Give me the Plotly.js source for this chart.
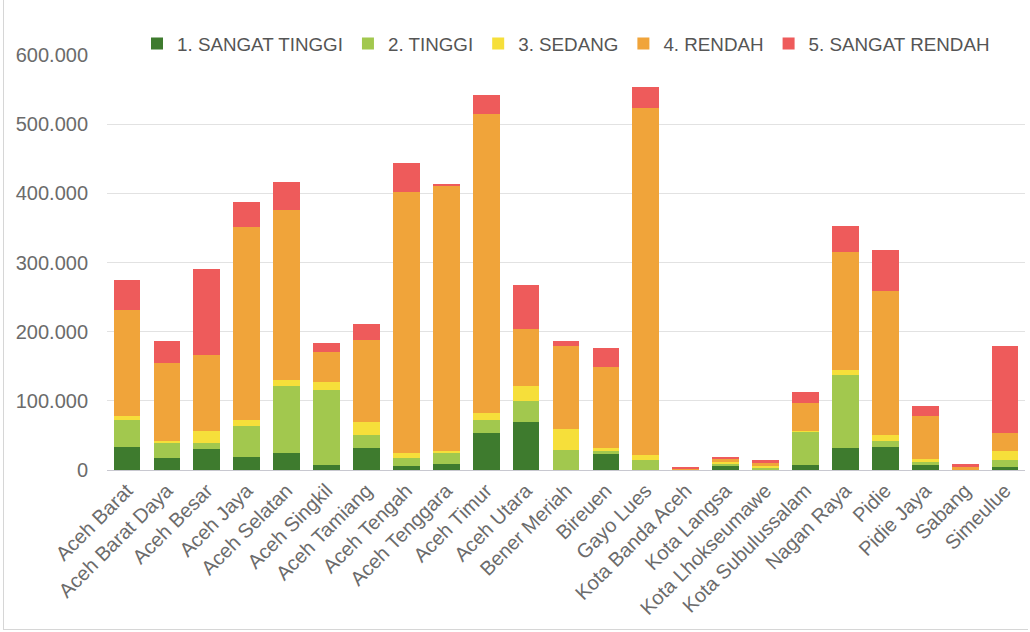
<!DOCTYPE html>
<html>
<head>
<meta charset="utf-8">
<script src="https://cdn.plot.ly/plotly-3.0.1.min.js"></script>
<style>
html,body{margin:0;padding:0;background:#fff;}
#chart{width:1030px;height:632px;}
#frame{position:absolute;left:3px;top:0;width:1024px;height:629px;border-left:1px solid #d6d6d6;border-bottom:1px solid #d6d6d6;pointer-events:none;}
</style>
</head>
<body>
<div id="chart"></div>
<div id="frame"></div>
<script>
const categories = ["Aceh Barat","Aceh Barat Daya","Aceh Besar","Aceh Jaya","Aceh Selatan","Aceh Singkil","Aceh Tamiang","Aceh Tengah","Aceh Tenggara","Aceh Timur","Aceh Utara","Bener Meriah","Bireuen","Gayo Lues","Kota Banda Aceh","Kota Langsa","Kota Lhokseumawe","Kota Subulussalam","Nagan Raya","Pidie","Pidie Jaya","Sabang","Simeulue"];

const sangatTinggi = [33000,18000,30000,19000,24000,7000,32000,6000,9000,54000,70000,0,23000,0,0,6000,0,7000,32500,33000,7500,0,4000];
const tinggi       = [40000,21000,9000,45000,97000,109000,19000,12000,15500,18500,30000,29000,4000,14500,0,2500,3000,48500,104500,8500,3500,0,10000];
const sedang       = [5000,3500,18000,8500,8500,11000,19000,6000,3500,10500,21000,30000,5000,7500,0,3500,2500,1000,8000,8500,4500,500,14000];
const rendah       = [154000,111500,109000,278500,246500,44000,118000,378000,383000,432000,83000,121000,117000,501500,1000,4000,4000,40000,170000,208500,63000,4000,26000];
const sangatRendah = [43000,33000,124000,36000,41000,12000,23000,42000,3000,26500,64000,7000,27500,30500,3000,3000,4500,16500,38000,59500,14500,4000,125000];

const seriesNames = ["1. SANGAT TINGGI","2. TINGGI","3. SEDANG","4. RENDAH","5. SANGAT RENDAH"];
const seriesValues = [sangatTinggi, tinggi, sedang, rendah, sangatRendah];
const seriesColors = ["#3e7b2e","#a2c84e","#f6df3a","#f0a43a","#ee5b5b"];

const yTickVals = [0,100000,200000,300000,400000,500000,600000];

const traces = seriesNames.map((n,i)=>({
  type:'bar',
  name:n,
  x:categories,
  y:seriesValues[i],
  marker:{color:seriesColors[i], line:{width:0}},
  hoverinfo:'x+y+name'
}));

const layout = {
  width:1030, height:632,
  barmode:'stack',
  bargap:0.33,
  separators:',.',
  paper_bgcolor:'#ffffff',
  plot_bgcolor:'#ffffff',
  font:{family:'"Liberation Sans", Arial, sans-serif', color:'#666666'},
  margin:{l:107, r:5, t:55, b:162},
  showlegend:true,
  legend:{orientation:'h', x:0.5, xanchor:'center', y:1.027, yanchor:'middle',
          font:{size:18.8, color:'#555555'}, traceorder:'normal', itemwidth:30,
          bgcolor:'rgba(0,0,0,0)'},
  xaxis:{type:'category', tickangle:-45, tickfont:{size:20, color:'#6b6b6b'},
         showgrid:false, showline:true, linecolor:'#c8c8d0', linewidth:1, ticks:'',
         automargin:false},
  yaxis:{range:[0,600000], tickvals:yTickVals, tickformat:',d',
         tickfont:{size:20, color:'#6b6b6b'}, showgrid:true, gridcolor:'#e2e2e2',
         gridwidth:1, zeroline:false, showline:false, ticks:'', ticklabelstandoff:18,
         automargin:false}
};

Plotly.newPlot('chart', traces, layout, {displayModeBar:false, staticPlot:true});
</script>
</body>
</html>
